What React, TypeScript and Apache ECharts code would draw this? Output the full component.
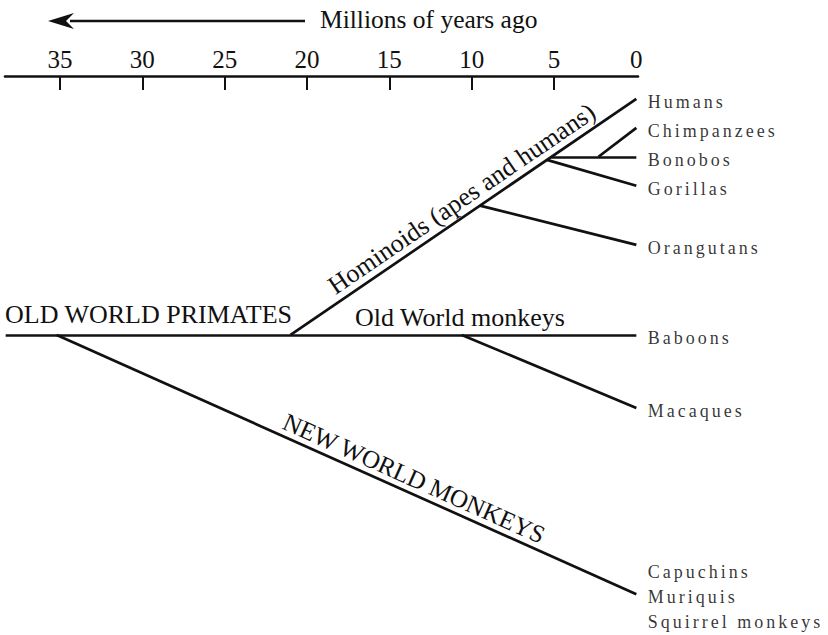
import React, { useEffect, useRef } from "react";
import * as echarts from "echarts";

// ---- axis ----
const tickValues = [0, 5, 10, 15, 20, 25, 30, 35];
const axisTitle = "Millions of years ago";
const axisMinMya = -0.1;
const axisMaxMya = 38.34;

// ---- tree branches: split time (Mya), parent branch, row of the branch tip ----
const branchNames = [
  "Old World primates",
  "New World monkeys",
  "Hominoids",
  "Macaque line",
  "Orangutans",
  "Gorillas",
  "Bonobo-chimpanzee line",
  "Chimpanzees",
];
const branchParent = [-1, 0, 0, 0, 2, 2, 2, 6];
const branchSplitMya = [38.3, 35.2, 21.0, 10.6, 9.5, 5.43, 5.15, 2.3];
const branchTipRow = [8.15, 17.1, 0, 10.67, 5.04, 3.0, 2.0, 1.0];

// ---- tip labels ----
const tipLabels = [
  "Humans",
  "Chimpanzees",
  "Bonobos",
  "Gorillas",
  "Orangutans",
  "Baboons",
  "Macaques",
  "Capuchins",
  "Muriquis",
  "Squirrel monkeys",
];
const tipLabelRows = [0, 1, 2, 3, 5.04, 8.15, 10.67, 16.24, 17.1, 17.96];

// ---- clade labels written along branches ----
const cladeLabels = ["Hominoids (apes and humans)", "NEW WORLD MONKEYS"];
const cladeBranch = [2, 1];
const cladeAlong = [0.521, 0.606];

// ---- group labels written above the main line ----
const groupLabels = ["OLD WORLD PRIMATES", "Old World monkeys"];
const groupLabelMya = [38.3, 17.08];

const INK = "#111111";
const SERIF = "'Liberation Serif', 'Times New Roman', serif";

function startRows(): number[] {
  const rows: number[] = [];
  branchParent.forEach((p, i) => {
    if (p < 0) {
      rows[i] = branchTipRow[i];
      return;
    }
    const t = branchSplitMya[i];
    rows[i] = branchTipRow[p] + ((rows[p] - branchTipRow[p]) * t) / branchSplitMya[p];
  });
  return rows;
}

export default function App() {
  const ref = useRef<HTMLDivElement>(null);

  useEffect(() => {
    if (!ref.current) return;
    const chart = echarts.init(ref.current, undefined, { renderer: "svg" });
    const sRows = startRows();

    const lineData = branchNames.map((name, i) => ({
      name,
      coords: [
        [branchSplitMya[i], sRows[i]],
        [0, branchTipRow[i]],
      ],
    }));

    chart.setOption({
      animation: false,
      backgroundColor: "#ffffff",
      grid: { left: 5, right: 190, top: 76, bottom: 0, outerBoundsMode: "none" },
      xAxis: {
        type: "value",
        position: "top",
        inverse: true,
        min: axisMinMya,
        max: axisMaxMya,
        splitLine: { show: false },
        axisLine: { show: true, onZero: false, lineStyle: { color: INK, width: 2.6 } },
        axisTick: {
          show: true,
          inside: true,
          length: 14,
          customValues: tickValues.filter((v) => v > 0),
          lineStyle: { color: INK, width: 2 },
        },
        axisLabel: {
          show: true,
          customValues: tickValues,
          margin: 17,
          verticalAlign: "middle",
          fontFamily: SERIF,
          fontSize: 25,
          color: INK,
        },
      },
      yAxis: {
        type: "value",
        inverse: true,
        min: -0.79,
        max: 18.51,
        show: false,
      },
      series: [
        {
          type: "lines",
          coordinateSystem: "cartesian2d",
          silent: true,
          lineStyle: { color: INK, width: 2.7, opacity: 1, curveness: 0 },
          data: lineData,
        },
        {
          type: "scatter",
          silent: true,
          symbol: "circle",
          symbolSize: 1,
          itemStyle: { color: "rgba(0,0,0,0)" },
          label: {
            show: true,
            position: "right",
            distance: 11,
            offset: [0, 3],
            formatter: "{b}",
            fontFamily: "XTip, " + SERIF,
            fontSize: 18,
            color: "#000000",
          },
          data: tipLabels.map((n, i) => ({ name: n, value: [0, tipLabelRows[i]] })),
        },
      ],
    });

    const px = (t: number, r: number) =>
      chart.convertToPixel({ gridIndex: 0 }, [t, r]) as number[];

    const graphics: any[] = [];

    // axis title with arrow
    graphics.push({
      type: "line",
      silent: true,
      shape: { x1: 70, y1: 21, x2: 305, y2: 21 },
      style: { stroke: INK, lineWidth: 2.6 },
    });
    graphics.push({
      type: "polygon",
      silent: true,
      shape: { points: [[48, 21], [74, 13], [66, 21], [74, 29]] },
      style: { fill: INK },
    });
    graphics.push({
      type: "text",
      silent: true,
      x: 320,
      y: 19,
      style: {
        text: axisTitle,
        fontFamily: SERIF,
        fontSize: 25.5,
        fill: INK,
        align: "left",
        verticalAlign: "middle",
        textAlign: "left",
        textVerticalAlign: "middle",
      },
    });

    // clade labels along branches
    cladeLabels.forEach((text, k) => {
      const b = cladeBranch[k];
      const p0 = px(branchSplitMya[b], sRows[b]);
      const p1 = px(0, branchTipRow[b]);
      const dx = p1[0] - p0[0];
      const dy = p1[1] - p0[1];
      const len = Math.sqrt(dx * dx + dy * dy);
      const ux = dx / len;
      const uy = dy / len;
      const gap = k === 0 ? 16 : 15;
      const cx = p0[0] + cladeAlong[k] * dx + gap * uy;
      const cy = p0[1] + cladeAlong[k] * dy - gap * ux;
      graphics.push({
        type: "text",
        silent: true,
        x: cx,
        y: cy,
        rotation: -Math.atan2(dy, dx),
        style: {
          text,
          fontFamily: SERIF,
          fontSize: k === 0 ? 26 : 25,
          fill: INK,
          align: "center",
          verticalAlign: "middle",
          textAlign: "center",
          textVerticalAlign: "middle",
        },
      });
    });

    // group labels above the main line
    groupLabels.forEach((text, k) => {
      const p = px(groupLabelMya[k], branchTipRow[0]);
      graphics.push({
        type: "text",
        silent: true,
        x: k === 0 ? 5 : p[0],
        y: p[1] - (k === 0 ? 20 : 17),
        style: {
          text,
          fontFamily: SERIF,
          fontSize: 26,
          fill: INK,
          align: "left",
          verticalAlign: "middle",
          textAlign: "left",
          textVerticalAlign: "middle",
        },
      });
    });

    chart.setOption({ graphic: { elements: graphics } });

    return () => chart.dispose();
  }, []);

  return (
    <>
      <style>{`#tree-chart text[style*="XTip"]{letter-spacing:3px;}`}</style>
      <div
        id="tree-chart"
        ref={ref}
        style={{ position: "fixed", left: 0, top: 0, width: 828, height: 635, background: "#fff" }}
      />
    </>
  );
}
